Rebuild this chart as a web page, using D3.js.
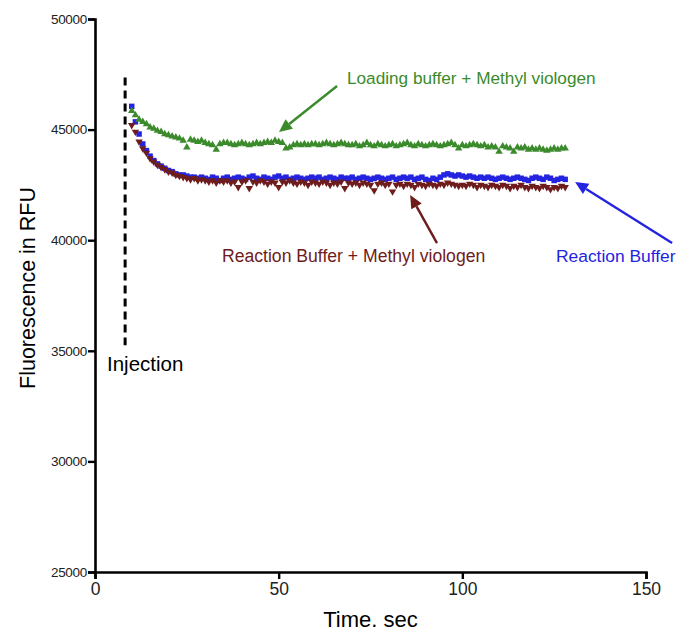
<!DOCTYPE html>
<html>
<head>
<meta charset="utf-8">
<script src="https://cdn.jsdelivr.net/npm/d3@7"></script>
<style>
  body { margin: 0; background: #fff; }
  svg { display: block; font-family: "Liberation Sans", Arial, Helvetica, sans-serif; }
</style>
</head>
<body>
<script>
// sample times in seconds (one reading per second after injection)
var timeStart = 10, timeEnd = 128;
var times = d3.range(timeStart, timeEnd + 1);

var xTicks = [0, 50, 100, 150];
var yTicks = [25000, 30000, 35000, 40000, 45000, 50000];

// Reaction Buffer (blue squares)
var reactionBuffer = [
  46050, 45350, 44800, 44350, 44050, 43800, 43600, 43450, 43350, 43250,
  43150, 43100, 43000, 42950, 42950, 42900, 42850, 42850, 42800, 42850,
  42800, 42750, 42850, 42800, 42700, 42800, 42850, 42750, 42800, 42850,
  42800, 42750, 42850, 42900, 42800, 42750, 42850, 42800, 42750, 42850,
  42900, 42800, 42850, 42750, 42800, 42850, 42800, 42750, 42800, 42850,
  42800, 42850, 42750, 42800, 42850, 42800, 42750, 42850, 42800, 42800,
  42850, 42750, 42800, 42850, 42800, 42750, 42800, 42850, 42800, 42750,
  42800, 42850, 42750, 42800, 42850, 42800, 42850, 42750, 42800, 42850,
  42750, 42700, 42800, 42750, 42850, 42950, 43000, 42950, 42900, 42950,
  42900, 42850, 42900, 42850, 42800, 42850, 42800, 42850, 42800, 42750,
  42800, 42850, 42800, 42750, 42800, 42850, 42800, 42750, 42700, 42800,
  42850, 42800, 42750, 42850, 42800, 42700, 42750, 42800, 42750
];

// Reaction Buffer + Methyl viologen (dark red, down triangles)
var reactionMV = [
  45200, 44900, 44450, 44150, 43950, 43700, 43550, 43400, 43300, 43200,
  43100, 43050, 42950, 42900, 42850, 42800, 42750, 42800, 42700, 42750,
  42700, 42650, 42700, 42600, 42700, 42650, 42700, 42600, 42650, 42400,
  42650, 42700, 42350, 42650, 42600, 42700, 42650, 42550, 42650, 42600,
  42400, 42650, 42600, 42700, 42600, 42550, 42650, 42600, 42500, 42650,
  42600, 42550, 42650, 42600, 42500, 42600, 42550, 42650, 42350, 42600,
  42550, 42600, 42500, 42600, 42550, 42500, 42250, 42550, 42600, 42500,
  42550, 42200, 42500, 42550, 42450, 42550, 42500, 42400, 42550, 42500,
  42450, 42550, 42500, 42450, 42550, 42500, 42600, 42550, 42500, 42450,
  42500, 42450, 42550, 42500, 42400, 42500, 42450, 42400, 42500, 42450,
  42400, 42500, 42450, 42350, 42450, 42400, 42500, 42400, 42350, 42450,
  42400, 42350, 42450, 42400, 42300, 42400, 42350, 42450, 42400
];

// Loading buffer + Methyl viologen (green, up triangles)
var loadingMV = [
  45850, 45650, 45450, 45350, 45250, 45100, 45050, 44950, 44900, 44800,
  44750, 44700, 44650, 44600, 44500, 44200, 44550, 44500, 44450, 44500,
  44400, 44350, 44300, 44100, 44350, 44400, 44400, 44350, 44300, 44350,
  44400, 44350, 44300, 44350, 44400, 44350, 44400, 44450, 44400, 44500,
  44450, 44400, 44150, 44200, 44300, 44350, 44300, 44350, 44300, 44350,
  44350, 44300, 44350, 44400, 44350, 44300, 44350, 44400, 44350, 44300,
  44300, 44350, 44250, 44300, 44400, 44300, 44250, 44350, 44300, 44250,
  44300, 44350, 44250, 44300, 44350, 44400, 44300, 44250, 44350, 44300,
  44250, 44300, 44350, 44300, 44250, 44300, 44350, 44400, 44300, 44150,
  44300, 44250, 44300, 44350, 44300, 44250, 44300, 44200, 44250, 44200,
  44000, 44250, 44200, 44150, 44000, 44200, 44150, 44200, 44100, 44150,
  44100, 44150, 44100, 44050, 44100, 44150, 44100, 44150, 44150
];

var width = 692, height = 632;
var margin = { top: 19, right: 46, bottom: 60, left: 95 };

var svg = d3.select("body").append("svg")
  .attr("width", width)
  .attr("height", height);

var x = d3.scaleLinear().domain([0, 150]).range([margin.left, width - margin.right]);
var y = d3.scaleLinear().domain([25000, 50000]).range([height - margin.bottom, margin.top]);

var green = "#3b8a2c", blue = "#2323e0", darkRed = "#6e1c1c";

// axes
var xAxis = svg.append("g")
  .attr("transform", "translate(0," + y(25000) + ")")
  .call(d3.axisBottom(x).tickValues(xTicks).tickSize(7).tickPadding(4).tickFormat(d3.format("d")));
var yAxis = svg.append("g")
  .attr("transform", "translate(" + x(0) + ",0)")
  .call(d3.axisLeft(y).tickValues(yTicks).tickSize(7).tickPadding(1).tickFormat(d3.format("d")));

[xAxis, yAxis].forEach(function (a) {
  a.select(".domain").attr("stroke", "#000").attr("stroke-width", 2.6);
  a.selectAll(".tick line").attr("stroke", "#000").attr("stroke-width", 2.4);
  a.selectAll(".tick text").attr("fill", "#222").attr("font-family", "Liberation Sans, Arial, sans-serif");
});
xAxis.selectAll(".tick text").attr("font-size", 17.5);
yAxis.selectAll(".tick text").attr("font-size", 13.5).attr("letter-spacing", -0.3);

// axis titles
svg.append("text")
  .attr("x", x(75)).attr("y", 627)
  .attr("text-anchor", "middle")
  .attr("font-size", 22)
  .text("Time. sec");
svg.append("text")
  .attr("transform", "translate(35,288) rotate(-90)")
  .attr("text-anchor", "middle")
  .attr("font-size", 21.5)
  .text("Fluorescence in RFU");

// injection marker
svg.append("line")
  .attr("x1", x(8.2)).attr("x2", x(8.2))
  .attr("y1", y(47350)).attr("y2", y(35250))
  .attr("stroke", "#000").attr("stroke-width", 3)
  .attr("stroke-dasharray", "8,5");
svg.append("text")
  .attr("x", 107).attr("y", 371)
  .attr("font-size", 20.5)
  .text("Injection");

// scatter series
function drawSeries(values, symbol, size, color, flip) {
  var sym = d3.symbol().type(symbol).size(size);
  svg.append("g").selectAll("path")
    .data(values)
    .join("path")
    .attr("d", sym)
    .attr("fill", color)
    .attr("transform", function (d, i) {
      return "translate(" + x(times[i]) + "," + y(d) + ")" + (flip ? " rotate(180)" : "");
    });
}
drawSeries(reactionBuffer, d3.symbolSquare, 30, blue, false);
drawSeries(reactionMV, d3.symbolTriangle, 24, darkRed, true);
drawSeries(loadingMV, d3.symbolTriangle, 24, green, false);

// annotation arrows, from label towards the data
function arrow(t0, v0, t1, v1, color) {
  var x0 = x(t0), y0 = y(v0), x1 = x(t1), y1 = y(v1);
  var ang = Math.atan2(y1 - y0, x1 - x0);
  var len = 13, half = 6;
  var bx = x1 - len * Math.cos(ang), by = y1 - len * Math.sin(ang);
  svg.append("line")
    .attr("x1", x0).attr("y1", y0).attr("x2", bx).attr("y2", by)
    .attr("stroke", color).attr("stroke-width", 2.4);
  svg.append("path")
    .attr("d", "M" + x1 + "," + y1 +
      "L" + (bx + half * Math.sin(ang)) + "," + (by - half * Math.cos(ang)) +
      "L" + (bx - half * Math.sin(ang)) + "," + (by + half * Math.cos(ang)) + "Z")
    .attr("fill", color);
}
arrow(65.9, 46970, 50.1, 44890, green);
arrow(93.1, 39870, 85.8, 42040, darkRed);
arrow(157.1, 39870, 130.7, 42630, blue);

// labels
svg.append("text").attr("x", 347).attr("y", 84).attr("font-size", 17.2).attr("fill", green)
  .text("Loading buffer + Methyl viologen");
svg.append("text").attr("x", 222).attr("y", 262).attr("font-size", 17.6).attr("fill", darkRed)
  .text("Reaction Buffer + Methyl viologen");
svg.append("text").attr("x", 556).attr("y", 262).attr("font-size", 17.4).attr("fill", blue)
  .text("Reaction Buffer");
</script>
</body>
</html>
